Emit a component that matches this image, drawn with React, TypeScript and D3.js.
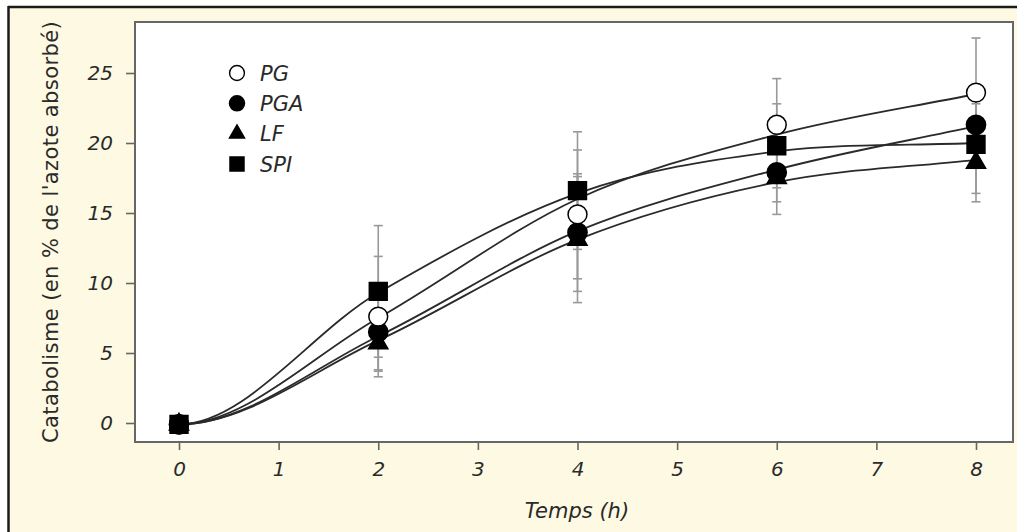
import React, { useEffect, useRef } from 'react'
import * as d3 from 'd3'

// time points (h)
const times = [0, 2, 4, 6, 8]

// measured means (% of absorbed nitrogen)
const pgValues = [-0.1, 7.6, 14.9, 21.3, 23.6]
const pgaValues = [-0.1, 6.5, 13.6, 17.9, 21.3]
const lfValues = [-0.1, 5.7, 13.1, 17.5, 18.6]
const spiValues = [-0.1, 9.4, 16.6, 19.8, 19.9]

// standard deviations
const pgSd = [0, 4.3, 4.6, 3.3, 3.9]
const pgaSd = [0, 2.7, 4.2, 3.0, 1.5]
const lfSd = [0, 2.0, 4.5, 1.7, 2.8]
const spiSd = [0, 4.7, 4.2, 3.0, 3.5]

// fitted curves, read at the same time points
const pgFit = [-0.1, 7.5, 16.0, 20.6, 23.5]
const pgaFit = [-0.1, 6.2, 13.7, 18.1, 21.2]
const lfFit = [-0.1, 5.9, 13.1, 17.2, 18.8]
const spiFit = [-0.1, 9.3, 16.4, 19.4, 20.0]

const xTicks = [0, 1, 2, 3, 4, 5, 6, 7, 8]
const yTicks = [0, 5, 10, 15, 20, 25]

const seriesNames = ['PG', 'PGA', 'LF', 'SPI']

const FONT = '"DejaVu Sans", sans-serif'
const TEXT = '#2a2a2a'

// cubic hermite through the points, flat at the first one
function curveFlatStart(context: any) {
  let xs: number[] = []
  let ys: number[] = []
  return {
    areaStart() {},
    areaEnd() {},
    lineStart() { xs = []; ys = [] },
    point(x: number, y: number) { xs.push(+x); ys.push(+y) },
    lineEnd() {
      const n = xs.length
      if (!n) return
      context.moveTo(xs[0], ys[0])
      const m = xs.map((_, i) => {
        if (i === 0) return 0
        if (i === n - 1) return (ys[i] - ys[i - 1]) / (xs[i] - xs[i - 1])
        return (ys[i + 1] - ys[i - 1]) / (xs[i + 1] - xs[i - 1])
      })
      for (let i = 0; i < n - 1; i++) {
        const h = (xs[i + 1] - xs[i]) / 3
        context.bezierCurveTo(xs[i] + h, ys[i] + h * m[i], xs[i + 1] - h, ys[i + 1] - h * m[i + 1], xs[i + 1], ys[i + 1])
      }
    }
  }
}

export default function App() {
  const xAxisRef = useRef<SVGGElement>(null)
  const yAxisRef = useRef<SVGGElement>(null)

  const plot = { left: 135, top: 22, right: 1013, bottom: 442 }

  const x = d3.scaleLinear().domain([0, 8]).range([179, 976])
  const y = d3.scaleLinear().domain([0, 25]).range([423, 73])

  const series = [
    { name: 'LF', values: lfValues, sd: lfSd, fit: lfFit, shape: d3.symbolTriangle, size: 160, fill: '#000' },
    { name: 'PGA', values: pgaValues, sd: pgaSd, fit: pgaFit, shape: d3.symbolCircle, size: 290, fill: '#000' },
    { name: 'PG', values: pgValues, sd: pgSd, fit: pgFit, shape: d3.symbolCircle, size: 280, fill: '#fff' },
    { name: 'SPI', values: spiValues, sd: spiSd, fit: spiFit, shape: d3.symbolSquare, size: 320, fill: '#000' },
  ]

  const line = d3.line<number>()
    .x((_, i) => x(times[i]))
    .y((d) => y(d))
    .curve(curveFlatStart as any)

  useEffect(() => {
    const xAxis = d3.axisBottom(x).tickValues(xTicks).tickSize(7).tickPadding(12)
    const yAxis = d3.axisLeft(y).tickValues(yTicks).tickSize(8).tickPadding(13)

    const gx = d3.select(xAxisRef.current!)
    gx.call(xAxis as any)
    const gy = d3.select(yAxisRef.current!)
    gy.call(yAxis as any)

    for (const g of [gx, gy]) {
      g.select('.domain').remove()
      g.selectAll('.tick line').attr('stroke', '#666').attr('stroke-width', 1.6)
      g.selectAll('.tick text')
        .attr('fill', TEXT)
        .style('font-family', FONT)
        .style('font-style', 'italic')
        .style('font-size', '20px')
    }
    return () => {
      gx.selectAll('*').remove()
      gy.selectAll('*').remove()
    }
  }, [])

  const legendY = d3.scaleLinear().domain([0, 3]).range([73, 164])

  return (
    <div style={{ position: 'fixed', left: 0, top: 0 }}>
      <svg width={1017} height={532} style={{ display: 'block' }}>
        <rect x={0} y={0} width={1017} height={532} fill="#fff" />
        <rect x={8} y={7} width={1009} height={525} fill="#fdf9e3" />
        <line x1={8.5} y1={6} x2={8.5} y2={532} stroke="#1a1a1a" strokeWidth={2.5} />
        <line x1={8} y1={7} x2={1017} y2={7} stroke="#1a1a1a" strokeWidth={2.5} />

        <rect x={plot.left} y={plot.top} width={plot.right - plot.left} height={plot.bottom - plot.top}
          fill="#fff" stroke="#666" strokeWidth={2} />

        <g ref={xAxisRef} transform={`translate(0,${plot.bottom + 1})`} />
        <g ref={yAxisRef} transform={`translate(${plot.left - 1},0)`} />

        {/* error bars */}
        <g stroke="#999" strokeWidth={1.6}>
          {series.map((s) => s.values.map((v, i) => {
            if (!s.sd[i]) return null
            const cx = x(times[i])
            const y0 = y(v - s.sd[i])
            const y1 = y(v + s.sd[i])
            return (
              <g key={s.name + i}>
                <line x1={cx} x2={cx} y1={y0} y2={y1} />
                <line x1={cx - 4.5} x2={cx + 4.5} y1={y0} y2={y0} />
                <line x1={cx - 4.5} x2={cx + 4.5} y1={y1} y2={y1} />
              </g>
            )
          }))}
        </g>

        {/* fitted curves */}
        {series.map((s) => (
          <path key={'fit' + s.name} d={line(s.fit) || ''} fill="none" stroke="#2a2a2a" strokeWidth={1.8} />
        ))}

        {/* markers */}
        {series.map((s) => s.values.map((v, i) => (
          <path key={'m' + s.name + i}
            d={d3.symbol().type(s.shape).size(s.size)() || ''}
            transform={`translate(${x(times[i])},${y(v)})`}
            fill={s.fill} stroke="#000" strokeWidth={1.5} />
        )))}

        {/* legend */}
        {seriesNames.map((name, i) => {
          const s = series.find((d) => d.name === name)!
          return (
            <g key={'leg' + name} transform={`translate(237,${legendY(i)})`}>
              <path d={d3.symbol().type(s.shape).size(s.size * 0.62)() || ''} fill={s.fill} stroke="#000" strokeWidth={1.4} />
              <text x={23} y={7.5} fill={TEXT} fontFamily={FONT} fontStyle="italic" fontSize={21}>{name}</text>
            </g>
          )
        })}

        {/* axis titles */}
        <text x={(plot.left + plot.right) / 2} y={518} textAnchor="middle" fill={TEXT}
          fontFamily={FONT} fontStyle="italic" fontSize={21} dx={3}>Temps (h)</text>
        <text transform="translate(58,232) rotate(-90)" textAnchor="middle" fill={TEXT}
          fontFamily={FONT} fontSize={21} letterSpacing={0.4}>Catabolisme (en % de l'azote absorbé)</text>
      </svg>
    </div>
  )
}
